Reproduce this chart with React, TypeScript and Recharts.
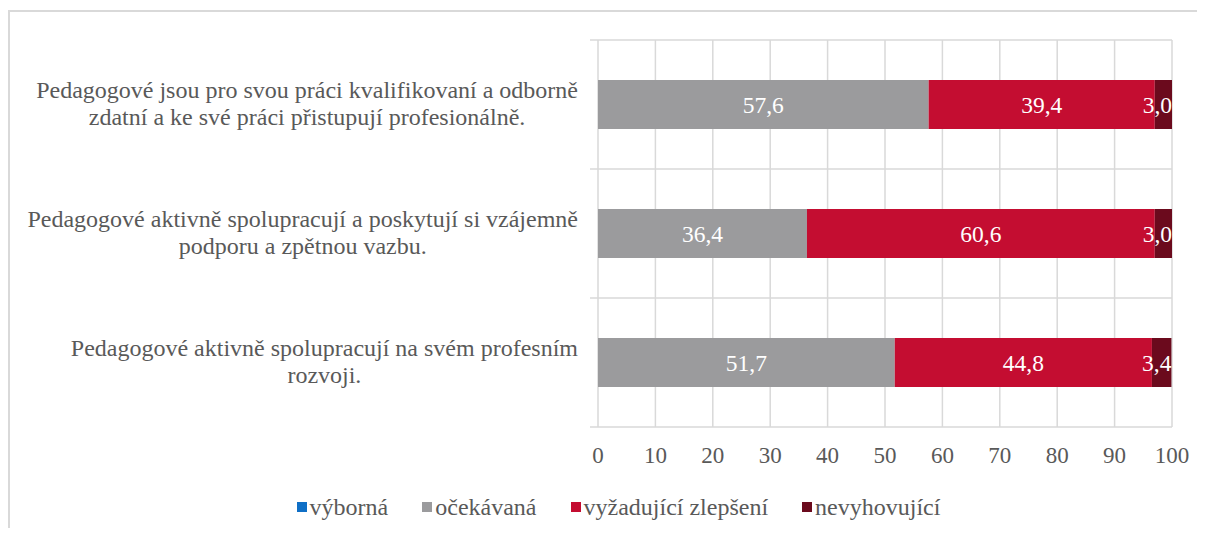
import React from "react";
import {
  BarChart,
  Bar,
  XAxis,
  YAxis,
  CartesianGrid,
  Legend,
  LabelList,
} from "recharts";

const categories = [
  "Pedagogové jsou pro svou práci kvalifikovaní a odborně\nzdatní a ke své práci přistupují profesionálně.",
  "Pedagogové aktivně spolupracují a poskytují si vzájemně\npodporu a zpětnou vazbu.",
  "Pedagogové aktivně spolupracují na svém profesním\nrozvoji.",
];

const vybornaValues = [0, 0, 0];
const ocekavanaValues = [57.6, 36.4, 51.7];
const zlepseniValues = [39.4, 60.6, 44.8];
const nevyhovujiciValues = [3.0, 3.0, 3.4];

const xTicks = [0, 10, 20, 30, 40, 50, 60, 70, 80, 90, 100];

const series = [
  { key: "vyborna", name: "výborná", color: "#0F6FC6" },
  { key: "ocekavana", name: "očekávaná", color: "#9B9B9D" },
  { key: "zlepseni", name: "vyžadující zlepšení", color: "#C40D31" },
  { key: "nevyhovujici", name: "nevyhovující", color: "#6B0A1D" },
];

const data = categories.map((name, i) => ({
  name,
  vyborna: vybornaValues[i],
  ocekavana: ocekavanaValues[i],
  zlepseni: zlepseniValues[i],
  nevyhovujici: nevyhovujiciValues[i],
}));

const FONT = "'Liberation Serif', 'Times New Roman', serif";
const TEXT = "#595959";
const GRID = "#d9d9d9";

let ctx: CanvasRenderingContext2D | null = null;
function measure(text: string, size: number) {
  if (!ctx) ctx = document.createElement("canvas").getContext("2d");
  if (!ctx) return text.length * size * 0.42;
  ctx.font = `${size}px 'Liberation Serif'`;
  return ctx.measureText(text).width;
}

const CategoryTick = (props: any) => {
  const { x, y, payload } = props;
  const lines: string[] = String(payload.value).split("\n");
  const size = 24;
  const maxW = Math.max(...lines.map((l) => measure(l, size)));
  const cx = x - 20 - maxW / 2;
  const lh = 27;
  const start = -((lines.length - 1) * lh) / 2 - 1;
  return (
    <text fontFamily={FONT} fontSize={size} fill={TEXT} textAnchor="middle">
      {lines.map((l, i) => (
        <tspan key={i} x={cx} y={y + start + i * lh} dy="0.35em">
          {l}
        </tspan>
      ))}
    </text>
  );
};

const ValueTick = (props: any) => {
  const { x, y, payload } = props;
  return (
    <text x={x} y={y + 28} dy="0.35em" textAnchor="middle" fontFamily={FONT} fontSize={23} fill={TEXT}>
      {payload.value}
    </text>
  );
};

const SegmentLabel = (props: any) => {
  const { x, y, width, height, value } = props;
  if (!value) return null;
  const label = Number(value).toFixed(1).replace(".", ",");
  const size = 23.5;
  const tw = measure(label, size);
  const fits = width >= tw;
  return (
    <text
      x={fits ? x + width / 2 : x + width}
      y={y + height / 2}
      dy="0.35em"
      textAnchor={fits ? "middle" : "end"}
      fontFamily={FONT}
      fontSize={size}
      fill="#ffffff"
    >
      {label}
    </text>
  );
};

const LegendContent = () => (
  <div
    style={{
      display: "flex",
      justifyContent: "center",
      gap: 34,
      paddingLeft: 24,
      fontFamily: FONT,
      fontSize: 24,
      color: TEXT,
      lineHeight: "26px",
    }}
  >
    {series.map((s) => (
      <div key={s.key} style={{ display: "flex", alignItems: "center" }}>
        <span style={{ width: 10, height: 10, background: s.color, marginRight: 3, display: "inline-block" }} />
        <span>{s.name}</span>
      </div>
    ))}
  </div>
);

export default function App() {
  return (
    <div style={{ position: "relative", width: 1197, height: 520, overflow: "hidden" }}>
      <div
        style={{
          position: "absolute",
          left: 0,
          top: 2,
          width: 1220,
          height: 560,
          border: `2px solid ${GRID}`,
          boxSizing: "border-box",
        }}
      />
      <div style={{ position: "absolute", left: 0, top: 0 }}>
        <BarChart
          width={1197}
          height={520}
          data={data}
          layout="vertical"
          barCategoryGap="31%"
          margin={{ top: 32, right: 33, bottom: 61, left: 0 }}
        >
          <CartesianGrid
            stroke={GRID}
            strokeWidth={1.5}
            x={582}
            width={582}
            horizontalCoordinatesGenerator={({ offset }: any) =>
              categories
                .map((_, i) => offset.top + (i * offset.height) / categories.length)
                .concat(offset.top + offset.height)
            }
          />
          <XAxis
            type="number"
            domain={[0, 100]}
            ticks={xTicks}
            interval={0}
            height={40}
            axisLine={false}
            tickLine={false}
            tickSize={0}
            tickMargin={0}
            tick={<ValueTick />}
          />
          <YAxis
            type="category"
            dataKey="name"
            width={590}
            axisLine={false}
            tickLine={false}
            tickSize={0}
            tickMargin={0}
            interval={0}
            tick={<CategoryTick />}
          />
          <Legend
            layout="horizontal"
            verticalAlign="middle"
            align="center"
            wrapperStyle={{ top: 486, left: 0, width: 1197 }}
            content={<LegendContent />}
          />
          {series.map((s) => (
            <Bar key={s.key} dataKey={s.key} name={s.name} stackId="a" fill={s.color} isAnimationActive={false}>
              <LabelList dataKey={s.key} content={<SegmentLabel />} />
            </Bar>
          ))}
        </BarChart>
      </div>
    </div>
  );
}
